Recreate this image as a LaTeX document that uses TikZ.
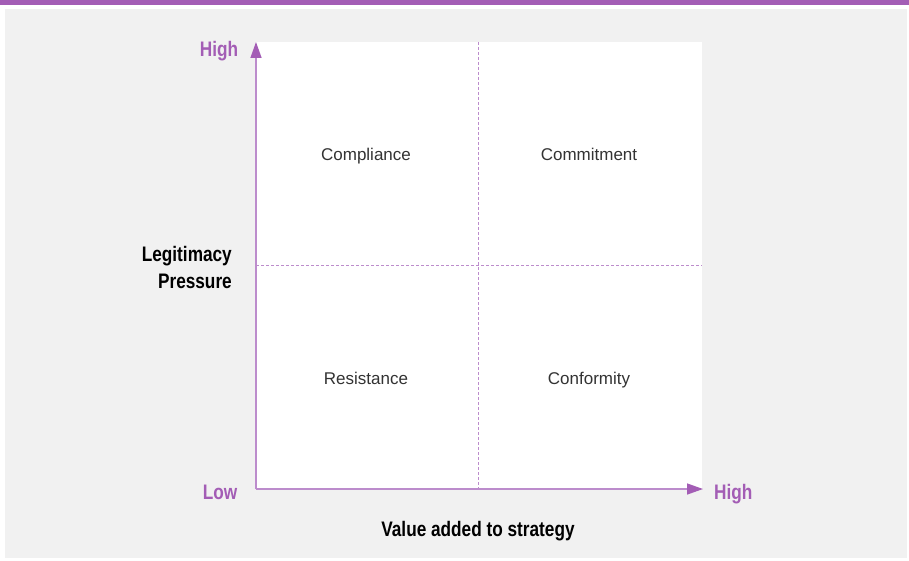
\documentclass[tikz,border=0pt]{standalone}
\usepackage{fontspec}
\setmainfont{Liberation Sans}
\newfontfamily\condfont[FakeStretch=0.82]{Liberation Sans}
\definecolor{orchid}{HTML}{A35DB5}
\definecolor{lilac}{HTML}{BC8CCC}
\definecolor{panelgrey}{HTML}{F1F1F1}
\usetikzlibrary{arrows.meta,positioning}

\begin{document}
\begin{tikzpicture}[
  x=1pt, y=-1pt,
  axis/.style={line width=1.4pt, lilac, -{Triangle[length=16pt, width=11pt, fill=orchid, color=orchid]}},
  midline/.style={line width=0.9pt, lilac, dash pattern=on 3pt off 2pt},
  quadrant/.style={anchor=base, inner sep=0pt, font=\fontsize{17}{20}\selectfont, text=black!80},
  tick/.style={anchor=base, inner sep=0pt, font=\condfont\bfseries\fontsize{21}{24}\selectfont, text=orchid},
  axislabel/.style={anchor=base, inner sep=0pt, font=\condfont\bfseries\fontsize{21}{27}\selectfont, text=black}
]
  % Page, banner and grey panel
  \useasboundingbox (0,0) rectangle (909,561);
  \fill[white] (0,0) rectangle (909,561);
  \fill[orchid] (0,0) rectangle (909,5);
  \fill[panelgrey] (5,9) rectangle (907,558);

  % Plot area
  \fill[white] (256,42) rectangle (702,489);
  \coordinate (origin) at (256,489);
  \coordinate (ytop) at (256,42);
  \coordinate (xend) at (703,489);
  \coordinate (vtop) at (478,42);
  \coordinate (vbot) at (478,489);
  \coordinate (hleft) at (256,265);
  \coordinate (hright) at (702,265);

  % Dividers
  \draw[midline] (vtop) -- (vbot);
  \draw[midline] (hleft) -- (hright);

  % Axes
  \draw[axis] (origin) -- (ytop);
  \draw[axis] (origin) -- (xend);

  % Quadrants
  \node[quadrant] (compliance) at (366,161) {Compliance};
  \node[quadrant] (commitment) at (589,161) {Commitment};
  \node[quadrant] (resistance) at (366,384) {Resistance};
  \node[quadrant] (conformity) at (589,384) {Conformity};

  % Axis ends
  \node[tick] (yhigh) at (219,57) {High};
  \node[tick] (xlow) at (220,499) {Low};
  \node[tick, anchor=base west] (xhigh) at (714,499) {High};

  % Axis titles
  \node[axislabel, anchor=base east] (ytitle) at (232,261) {Legitimacy};
  \node[axislabel, anchor=base east] (ytitle2) at (232,288) {Pressure};
  \node[axislabel] (xtitle) at (478,536) {Value added to strategy};
\end{tikzpicture}
\end{document}
